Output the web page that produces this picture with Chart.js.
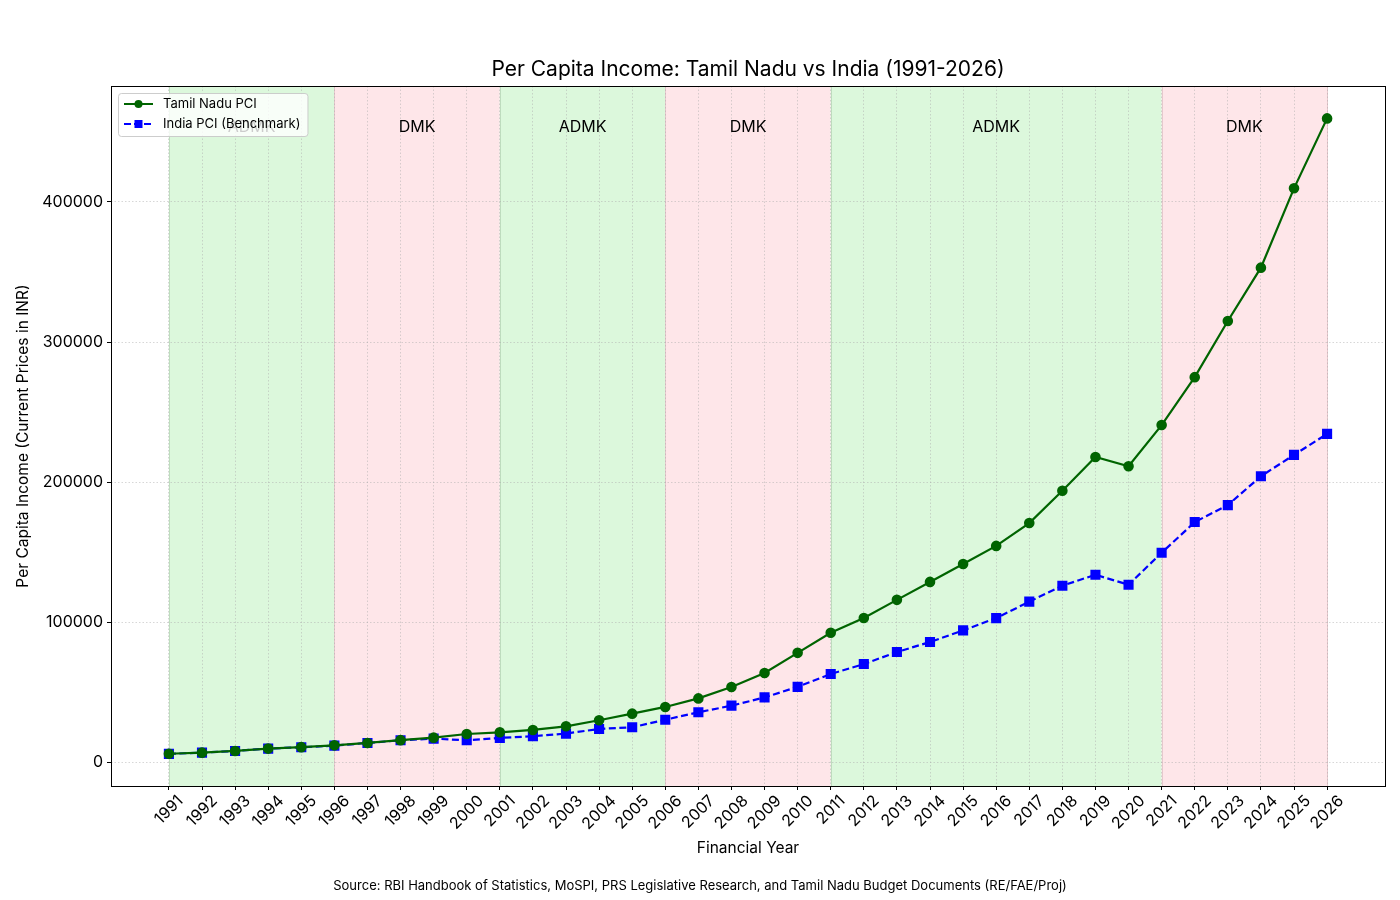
<!DOCTYPE html>
<html>
<head>
<meta charset="utf-8">
<script src="https://cdn.jsdelivr.net/npm/chart.js@4.4.0/dist/chart.umd.min.js"></script>
<style>
  html, body { margin: 0; padding: 0; background: #fff; }
  #wrap { width: 1400px; height: 900px; }
</style>
</head>
<body>
<div id="wrap"><canvas id="pci" width="1400" height="900"></canvas></div>
<script>
// 資料
const years = [1991, 1992, 1993, 1994, 1995, 1996, 1997, 1998, 1999, 2000,
  2001, 2002, 2003, 2004, 2005, 2006, 2007, 2008, 2009, 2010,
  2011, 2012, 2013, 2014, 2015, 2016, 2017, 2018, 2019, 2020,
  2021, 2022, 2023, 2024, 2025, 2026];
const tnPci = [6300, 7100, 8300, 10000, 11000, 12300, 14000, 16000, 17800, 20400,
  21600, 23300, 25900, 30200, 34900, 39700, 45800, 53900, 63900, 78300,
  92600, 103200, 116100, 128900, 141700, 154600, 170900, 193900, 218000, 211400,
  240800, 275000, 315000, 353100, 409700, 459600];
const indiaPci = [6200, 7100, 8300, 10000, 10900, 12100, 14000, 15900, 17100, 15900,
  17600, 18800, 20700, 24000, 25200, 30600, 35900, 40600, 46500, 54000,
  63200, 70300, 78900, 86000, 94300, 103100, 114800, 126200, 134000, 126900,
  149700, 171600, 183700, 204300, 219500, 234500];
const yTicks = [0, 100000, 200000, 300000, 400000];
// 執政期間
const termStart = [1991, 1996, 2001, 2006, 2011, 2021];
const termEnd = [1996, 2001, 2006, 2011, 2021, 2026];
const termParty = ['ADMK', 'DMK', 'ADMK', 'DMK', 'ADMK', 'DMK'];
const partyLabelY = 453000;

const FONT = 'Inter, "Open Sans", sans-serif';
const partyFill = { ADMK: 'rgba(220, 248, 220, 1)', DMK: 'rgba(254, 230, 233, 1)' };
const partyEdge = { ADMK: 'rgba(190, 220, 190, 1)', DMK: 'rgba(230, 200, 205, 1)' };

const bandsPlugin = {
  id: 'bands',
  beforeDraw(chart) {
    const { ctx, chartArea: a, scales: { x } } = chart;
    ctx.save();
    ctx.fillStyle = '#fff';
    ctx.fillRect(0, 0, chart.width, chart.height);
    termStart.forEach((s, i) => {
      const x0 = x.getPixelForValue(s);
      const x1 = x.getPixelForValue(termEnd[i]);
      ctx.fillStyle = partyFill[termParty[i]];
      ctx.fillRect(x0, a.top, x1 - x0, a.bottom - a.top);
      ctx.strokeStyle = partyEdge[termParty[i]];
      ctx.lineWidth = 1;
      ctx.beginPath();
      ctx.moveTo(Math.round(x0) + 0.5, a.top); ctx.lineTo(Math.round(x0) + 0.5, a.bottom);
      ctx.moveTo(Math.round(x1) + 0.5, a.top); ctx.lineTo(Math.round(x1) + 0.5, a.bottom);
      ctx.stroke();
    });
    ctx.restore();
  },
  afterDatasetsDraw(chart) {
    const { ctx, scales: { x, y } } = chart;
    ctx.save();
    ctx.fillStyle = '#000';
    ctx.font = '16px ' + FONT;
    ctx.textAlign = 'center';
    ctx.textBaseline = 'middle';
    termStart.forEach((s, i) => {
      const cx = x.getPixelForValue((s + termEnd[i]) / 2);
      ctx.fillText(termParty[i], cx, y.getPixelForValue(partyLabelY));
    });
    ctx.restore();
  },
  afterDraw(chart) {
    const { ctx, chartArea: a, scales: { x } } = chart;
    ctx.save();
    // 外框
    ctx.strokeStyle = '#000';
    ctx.lineWidth = 1;
    ctx.strokeRect(Math.round(a.left) + 0.5, Math.round(a.top) + 0.5,
      Math.round(a.right - a.left), Math.round(a.bottom - a.top));

    // x 軸刻度文字 (旋轉 45 度, 置中於刻度)
    ctx.fillStyle = '#000';
    ctx.font = '16px ' + FONT;
    ctx.textAlign = 'center';
    ctx.textBaseline = 'middle';
    years.forEach(yr => {
      const txt = String(yr);
      const w = ctx.measureText(txt).width;
      const h = 12;
      const bh = (w + h) * Math.SQRT1_2;
      const cx = x.getPixelForValue(yr);
      const cy = a.bottom + 8 + bh / 2;
      ctx.save();
      ctx.translate(cx, cy);
      ctx.rotate(-Math.PI / 4);
      ctx.fillText(txt, 0, 0);
      ctx.restore();
    });

    // 圖例
    ctx.font = '13px ' + FONT;
    const lx = a.left + 7, ly = a.top + 7;
    const lw = 52 + ctx.measureText('India PCI (Benchmark)').width, lh = 43;
    ctx.fillStyle = 'rgba(255,255,255,0.8)';
    ctx.strokeStyle = 'rgba(200,200,200,0.9)';
    ctx.beginPath();
    ctx.roundRect(lx + 0.5, ly + 0.5, lw, lh, 3);
    ctx.fill();
    ctx.stroke();
    const items = [
      { label: 'Tamil Nadu PCI', color: '#006400', dash: [], marker: 'circle' },
      { label: 'India PCI (Benchmark)', color: '#0000ff', dash: [7, 3], marker: 'rect' }
    ];
    items.forEach((it, i) => {
      const yy = ly + 11 + i * 20;
      ctx.strokeStyle = it.color;
      ctx.lineWidth = 2;
      ctx.setLineDash(it.dash);
      ctx.beginPath();
      ctx.moveTo(lx + 6, yy); ctx.lineTo(lx + 35, yy);
      ctx.stroke();
      ctx.setLineDash([]);
      ctx.fillStyle = it.color;
      if (it.marker === 'circle') {
        ctx.beginPath(); ctx.arc(lx + 20.5, yy, 4, 0, Math.PI * 2); ctx.fill();
      } else {
        ctx.fillRect(lx + 16.5, yy - 4, 8, 8);
      }
      ctx.fillStyle = '#000';
      ctx.textAlign = 'left';
      ctx.textBaseline = 'middle';
      ctx.fillText(it.label, lx + 45, yy);
    });

    // 標題與軸標籤
    ctx.fillStyle = '#000';
    ctx.textAlign = 'center';
    ctx.textBaseline = 'middle';
    ctx.font = '21px ' + FONT;
    ctx.fillText('Per Capita Income: Tamil Nadu vs India (1991-2026)', (a.left + a.right) / 2, 70);
    ctx.font = '15.5px ' + FONT;
    ctx.fillText('Financial Year', (a.left + a.right) / 2, 848);
    ctx.save();
    ctx.translate(23, (a.top + a.bottom) / 2);
    ctx.rotate(-Math.PI / 2);
    ctx.fillText('Per Capita Income (Current Prices in INR)', 0, 0);
    ctx.restore();
    ctx.font = '13px ' + FONT;
    ctx.fillText('Source: RBI Handbook of Statistics, MoSPI, PRS Legislative Research, and Tamil Nadu Budget Documents (RE/FAE/Proj)', 700, 886);
    ctx.restore();
  }
};

new Chart(document.getElementById('pci'), {
  type: 'line',
  data: {
    datasets: [{
      label: 'Tamil Nadu PCI',
      data: years.map((yr, i) => ({ x: yr, y: tnPci[i] })),
      borderColor: '#006400',
      backgroundColor: '#006400',
      borderWidth: 2.2,
      pointStyle: 'circle',
      pointRadius: 4.2,
      pointHoverRadius: 4.2,
      tension: 0
    }, {
      label: 'India PCI (Benchmark)',
      data: years.map((yr, i) => ({ x: yr, y: indiaPci[i] })),
      borderColor: '#0000ff',
      backgroundColor: '#0000ff',
      borderWidth: 2.2,
      borderDash: [7, 3.5],
      pointStyle: 'rect',
      pointRadius: 5.6,
      pointHoverRadius: 5.6,
      tension: 0
    }]
  },
  options: {
    responsive: false,
    animation: false,
    layout: { padding: { left: 0, right: 15, top: 86, bottom: 0 } },
    plugins: {
      legend: { display: false },
      title: { display: false },
      tooltip: { enabled: false }
    },
    scales: {
      x: {
        type: 'linear',
        min: 1989.25,
        max: 2027.75,
        afterBuildTicks(scale) {
          scale.ticks = years.map(v => ({ value: v }));
        },
        afterFit(scale) { scale.height = 114; },
        ticks: {
          display: false,
          autoSkip: false
        },
        grid: {
          color: 'rgba(170,170,170,0.6)',
          lineWidth: 0.8,
          tickColor: '#000',
          tickLength: 4,
          tickWidth: 1,
          tickBorderDash: []
        },
        border: { display: false, dash: [1.5, 2] }
      },
      y: {
        type: 'linear',
        min: -16700,
        max: 482700,
        afterBuildTicks(scale) {
          scale.ticks = yTicks.map(v => ({ value: v }));
        },
        afterFit(scale) { scale.width = 111; },
        ticks: {
          color: '#000',
          padding: 4,
          font: { family: FONT, size: 16 },
          callback: v => String(v)
        },
        grid: {
          color: 'rgba(170,170,170,0.6)',
          lineWidth: 0.8,
          tickColor: '#000',
          tickLength: 4,
          tickWidth: 1,
          tickBorderDash: []
        },
        border: { display: false, dash: [1.5, 2] }
      }
    }
  },
  plugins: [bandsPlugin]
});
</script>
</body>
</html>
